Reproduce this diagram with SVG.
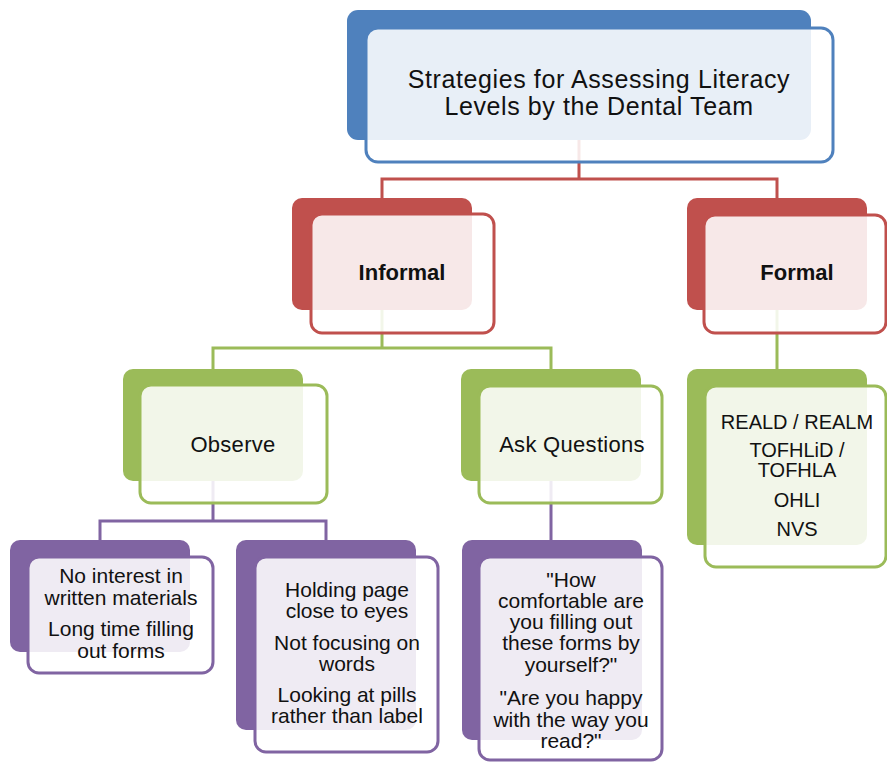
<svg xmlns="http://www.w3.org/2000/svg" width="887" height="764" viewBox="0 0 887 764">
<style>
.bg{stroke:none}
.fr{fill:#fff;fill-opacity:0.87;stroke-width:3}
.t{font-family:"Liberation Sans",Arial,sans-serif;fill:#111;text-anchor:middle}
.title{font-size:25px;letter-spacing:0.6px}
.l2{font-size:22px;font-weight:bold}
.l3{font-size:22px;letter-spacing:0.3px}
.lf{font-size:20px}
.lp{font-size:21px}
.c{fill:none;stroke-width:3}
</style>
<rect width="887" height="764" fill="#fff"/>
<g id="connectors">
<path class="c" stroke="#c0504d" d="M579,140 V179 M382,198 V179 H777 V198"/>
<path class="c" stroke="#9bbb59" d="M382,310 V348 M213,369 V348 H551 V369 M777,310 V370"/>
<path class="c" stroke="#8064a2" d="M213,481 V521 M100,540 V521 H326 V540 M551,481 V540"/>
</g>
<g id="root">
<rect class="bg" x="347" y="10" width="464" height="130" rx="11" fill="#4f81bd"/>
<rect class="fr" x="366" y="28" width="467" height="134" rx="12" stroke="#4f81bd"/>
<text class="t title" x="599" y="88">Strategies for Assessing Literacy</text>
<text class="t title" x="599" y="115">Levels by the Dental Team</text>
</g>
<g id="informal">
<rect class="bg" x="292" y="198" width="180" height="112" rx="10" fill="#c0504d"/>
<rect class="fr" x="311" y="214" width="183" height="119" rx="11" stroke="#c0504d"/>
<text class="t l2" x="402" y="280">Informal</text>
</g>
<g id="formal">
<rect class="bg" x="687" y="198" width="180" height="112" rx="10" fill="#c0504d"/>
<rect class="fr" x="704" y="215" width="182" height="118" rx="11" stroke="#c0504d"/>
<text class="t l2" x="797" y="280">Formal</text>
</g>
<g id="observe">
<rect class="bg" x="123" y="369" width="180" height="112" rx="10" fill="#9bbb59"/>
<rect class="fr" x="140" y="385" width="187" height="118" rx="11" stroke="#9bbb59"/>
<text class="t l3" x="233" y="452">Observe</text>
</g>
<g id="ask">
<rect class="bg" x="461" y="369" width="180" height="112" rx="10" fill="#9bbb59"/>
<rect class="fr" x="479" y="386" width="183" height="117" rx="11" stroke="#9bbb59"/>
<text class="t l3" x="572" y="452">Ask Questions</text>
</g>
<g id="formal-tests">
<rect class="bg" x="687" y="369" width="180" height="176" rx="10" fill="#9bbb59"/>
<rect class="fr" x="705" y="386" width="181" height="181" rx="11" stroke="#9bbb59"/>
<text class="t lf" x="797" y="429">REALD / REALM</text>
<text class="t lf" x="797" y="457">TOFHLiD /</text>
<text class="t lf" x="797" y="477">TOFHLA</text>
<text class="t lf" x="797" y="507">OHLI</text>
<text class="t lf" x="797" y="536">NVS</text>
</g>
<g id="obs-1">
<rect class="bg" x="10" y="540" width="180" height="112" rx="10" fill="#8064a2"/>
<rect class="fr" x="28" y="557" width="185" height="116" rx="11" stroke="#8064a2"/>
<text class="t lp" x="121" y="583">No interest in</text>
<text class="t lp" x="121" y="605">written materials</text>
<text class="t lp" x="121" y="636">Long time filling</text>
<text class="t lp" x="121" y="658">out forms</text>
</g>
<g id="obs-2">
<rect class="bg" x="236" y="540" width="180" height="190" rx="10" fill="#8064a2"/>
<rect class="fr" x="255" y="557" width="183" height="195" rx="11" stroke="#8064a2"/>
<text class="t lp" x="347" y="597">Holding page</text>
<text class="t lp" x="347" y="618">close to eyes</text>
<text class="t lp" x="347" y="650">Not focusing on</text>
<text class="t lp" x="347" y="671">words</text>
<text class="t lp" x="347" y="702">Looking at pills</text>
<text class="t lp" x="347" y="723">rather than label</text>
</g>
<g id="ask-1">
<rect class="bg" x="462" y="540" width="180" height="200" rx="10" fill="#8064a2"/>
<rect class="fr" x="479" y="557" width="183" height="203" rx="11" stroke="#8064a2"/>
<text class="t lp" x="571" y="587">"How</text>
<text class="t lp" x="571" y="608">comfortable are</text>
<text class="t lp" x="571" y="629">you filling out</text>
<text class="t lp" x="571" y="650">these forms by</text>
<text class="t lp" x="571" y="672">yourself?"</text>
<text class="t lp" x="571" y="705">"Are you happy</text>
<text class="t lp" x="571" y="727">with the way you</text>
<text class="t lp" x="571" y="748">read?"</text>
</g>
</svg>
